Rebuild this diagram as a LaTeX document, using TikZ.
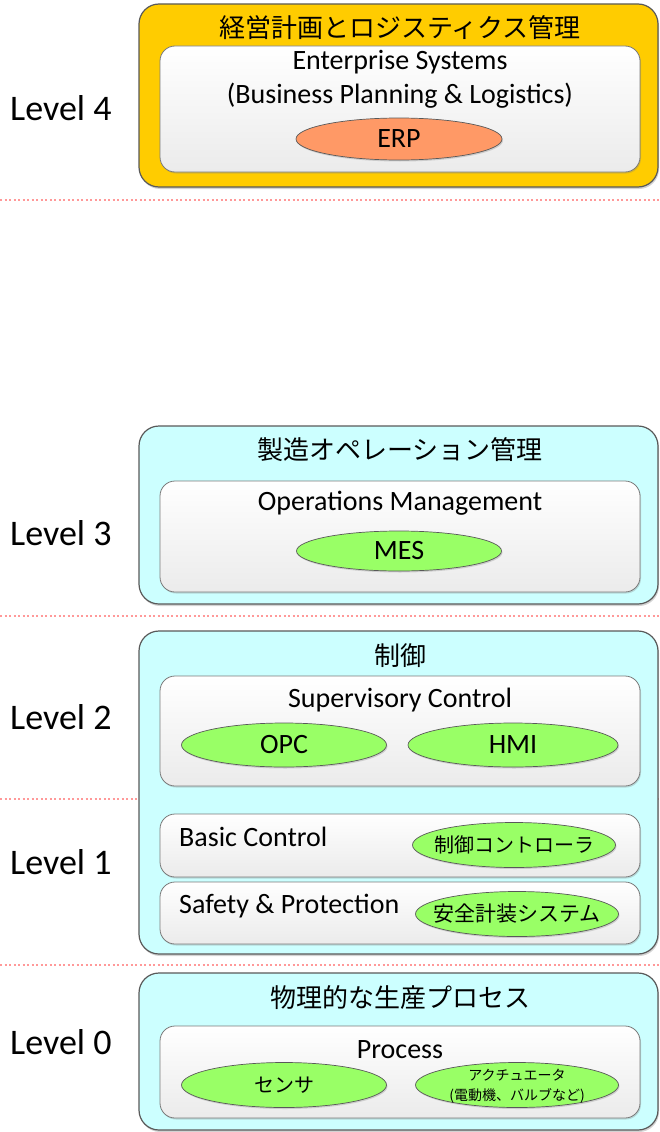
\documentclass[tikz,border=0pt]{standalone}
\usepackage{fontspec}
\setmainfont{Carlito}
\newfontfamily\jp{Noto Sans CJK JP}
\usetikzlibrary{shapes.geometric,shadows}
\definecolor{l4fill}{HTML}{FFCC00}
\definecolor{lfill}{HTML}{CCFFFF}
\definecolor{edge}{HTML}{595959}
\definecolor{erpfill}{HTML}{FF9966}
\definecolor{ovalfill}{HTML}{99FF66}
\definecolor{dotcol}{HTML}{FF9999}
\definecolor{innerbot}{HTML}{EBEBEB}
\tikzset{
  outerbox/.style={rectangle, rounded corners=20pt, draw=edge, line width=1.2pt, minimum width=519pt,
    drop shadow={shadow xshift=1pt, shadow yshift=-2pt, opacity=0.35}},
  innerbox/.style={rectangle, rounded corners=15pt, draw=edge!80, line width=0.8pt, minimum width=480pt,
    top color=white, bottom color=innerbot,
    drop shadow={shadow xshift=1pt, shadow yshift=-1.5pt, opacity=0.3}},
  oval/.style={ellipse, draw=edge, line width=0.7pt, fill=ovalfill, inner sep=0pt,
    drop shadow={shadow xshift=1pt, shadow yshift=-1.5pt, opacity=0.3}},
  jptitle/.style={font=\jp\fontsize{26}{30}\selectfont, inner sep=0pt},
  jpoval/.style={font=\jp\fontsize{20}{24}\selectfont, inner sep=0pt},
  entxt/.style={font=\fontsize{28}{32}\selectfont, inner sep=0pt},
  lvl/.style={font=\fontsize{36}{40}\selectfont, anchor=west, inner sep=0pt},
  levelline/.style={draw=dotcol, line width=1.2pt, dash pattern=on 2pt off 2.5pt},
}
\begin{document}
\begin{tikzpicture}[x=1pt, y=-1pt]
\useasboundingbox (0,0) rectangle (659,1132);
\clip (0,0) rectangle (659,1132);

% Level labels
\node[lvl] (lv4) at (10,108) {Level 4};
\node[lvl] (lv3) at (10,533) {Level 3};
\node[lvl] (lv2) at (10,717) {Level 2};
\node[lvl] (lv1) at (10,862) {Level 1};
\node[lvl] (lv0) at (10,1042) {Level 0};

% dotted separators
\coordinate (s4a) at (0,200); \coordinate (s4b) at (659,200);
\coordinate (s3a) at (0,616); \coordinate (s3b) at (659,616);
\coordinate (s2a) at (0,799); \coordinate (s2b) at (659,799);
\coordinate (s1a) at (0,965); \coordinate (s1b) at (659,965);
\draw[levelline] (s4a) -- (s4b);
\draw[levelline] (s3a) -- (s3b);
\draw[levelline] (s2a) -- (s2b);
\draw[levelline] (s1a) -- (s1b);

% Level 4
\node[outerbox, fill=l4fill, minimum height=183pt] (o4) at (398.5,95.5) {};
\node[jptitle] (t4) at (400,28) {経営計画とロジスティクス管理};
\node[innerbox, minimum height=126pt] (i4) at (400,109) {};
\node[entxt] (e4a) at (400,62) {Enterprise Systems};
\node[entxt] (e4b) at (400,96) {(Business Planning \& Logistics)};
\node[oval, fill=erpfill, minimum width=206pt, minimum height=42pt, font=\fontsize{28}{32}\selectfont] (erp) at (399,139) {ERP};

% Level 3
\node[outerbox, fill=lfill, minimum height=178pt] (o3) at (398.5,515) {};
\node[jptitle] (t3) at (400,450) {製造オペレーション管理};
\node[innerbox, minimum height=111pt] (i3) at (400,536.5) {};
\node[entxt] (e3) at (400,503) {Operations Management};
\node[oval, minimum width=205pt, minimum height=40pt, font=\fontsize{28}{32}\selectfont] (mes) at (399,551) {MES};

% Level 2 / 1
\node[outerbox, fill=lfill, minimum height=323pt] (o2) at (398.5,792.5) {};
\node[jptitle] (t2) at (400,656) {制御};
\node[innerbox, minimum height=110pt] (i2) at (400,731) {};
\node[entxt] (e2) at (400,700) {Supervisory Control};
\node[oval, minimum width=205pt, minimum height=44pt, font=\fontsize{28}{32}\selectfont] (opc) at (284,745) {OPC};
\node[oval, minimum width=210pt, minimum height=44pt, font=\fontsize{28}{32}\selectfont] (hmi) at (513,745) {HMI};

\node[innerbox, minimum height=63pt] (i1a) at (400,845.5) {};
\node[entxt, anchor=west] (e1a) at (179,837) {Basic Control};
\node[oval, minimum width=203pt, minimum height=45pt] (ctl) at (514,845) {};
\node[jpoval] (ctlt) at (514,845) {制御コントローラ};

\node[innerbox, minimum height=62pt] (i1b) at (400,913) {};
\node[entxt, anchor=west] (e1b) at (179,906) {Safety \& Protection};
\node[oval, minimum width=203pt, minimum height=45pt] (sis) at (517,914) {};
\node[jpoval, font=\jp\fontsize{21}{24}\selectfont] (sist) at (517,914) {安全計装システム};

% Level 0
\node[outerbox, fill=lfill, minimum height=157pt] (o0) at (398.5,1051.5) {};
\node[jptitle] (t0) at (400,998) {物理的な生産プロセス};
\node[innerbox, minimum height=92pt] (i0) at (400,1072) {};
\node[entxt] (e0) at (400,1050) {Process};
\node[oval, minimum width=205pt, minimum height=45pt] (sen) at (284,1085) {};
\node[jpoval] (sent) at (284,1085) {センサ};
\node[oval, minimum width=203pt, minimum height=45pt] (act) at (517,1085) {};
\node[font=\jp\fontsize{14}{16}\selectfont, inner sep=0pt] (act1) at (517,1075) {アクチュエータ};
\node[font=\jp\fontsize{14}{16}\selectfont, inner sep=0pt] (act2) at (517,1096) {(電動機、バルブなど)};
\end{tikzpicture}
\end{document}
